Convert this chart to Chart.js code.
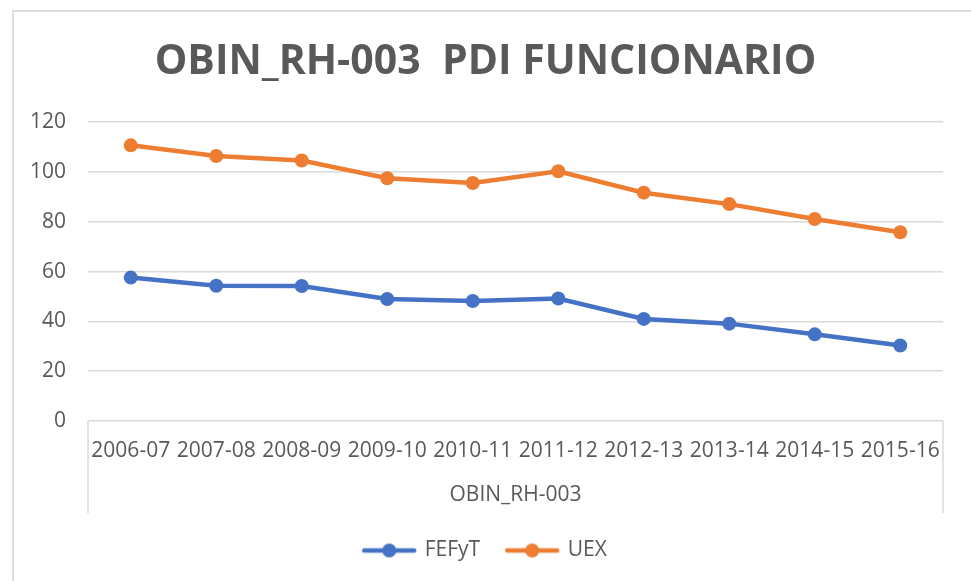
<!DOCTYPE html>
<html>
<head>
<meta charset="utf-8">
<script src="https://cdn.jsdelivr.net/npm/chart.js@4/dist/chart.umd.min.js"></script>
<style>
  html, body { margin: 0; padding: 0; background: #fff; overflow: hidden; }
  #wrap { position: relative; width: 971px; height: 581px; }
  #frame { position: absolute; left: 12px; top: 10px; width: 2000px; height: 2000px;
           border: 2px solid #dedede; pointer-events: none; }
</style>
</head>
<body>
<div id="wrap">
  <canvas id="obinChart" width="971" height="581"></canvas>
  <div id="frame"></div>
</div>
<script>
// datos
const cursos = ['2006-07', '2007-08', '2008-09', '2009-10', '2010-11', '2011-12', '2012-13', '2013-14', '2014-15', '2015-16'];
const fefyt = [57.6, 54.3, 54.2, 49.0, 48.2, 49.2, 41.0, 39.1, 34.8, 30.3];
const uex = [110.7, 106.4, 104.6, 97.5, 95.6, 100.3, 91.7, 87.1, 81.1, 75.8];
const yTicks = [0, 20, 40, 60, 80, 100, 120];
const tituloGrafico = 'OBIN_RH-003  PDI FUNCIONARIO';
const tituloEje = 'OBIN_RH-003';

const azul = '#4472C4';
const naranja = '#ED7D31';
const gris = '#595959';

Chart.defaults.font.family = "'Open Sans', 'Liberation Sans', sans-serif";
Chart.defaults.color = gris;

// icono de leyenda: linea con punto, como en excel
function legendIcon(color){
    const c = document.createElement('canvas');
    c.width = 56; c.height = 16;
    const g = c.getContext('2d');
    g.strokeStyle = color;
    g.lineWidth = 4.5;
    g.lineCap = 'round';
    g.beginPath();
    g.moveTo(3, 8);
    g.lineTo(53, 8);
    g.stroke();
    g.fillStyle = color;
    g.beginPath();
    g.arc(28, 8, 7, 0, Math.PI * 2);
    g.fill();
    return c;
}
const iconos = [legendIcon(azul), legendIcon(naranja)];

// lineas verticales del eje de categorias multinivel
const cajaCategorias = {
    id: 'cajaCategorias',
    afterDraw(chart){
        const x = chart.scales.x;
        const ctx = chart.ctx;
        ctx.save();
        ctx.strokeStyle = '#d9d9d9';
        ctx.lineWidth = 1.5;
        [chart.chartArea.left, chart.chartArea.right].forEach(px => {
            ctx.beginPath();
            ctx.moveTo(px, x.top);
            ctx.lineTo(px, x.bottom);
            ctx.stroke();
        });
        ctx.restore();
    }
};

const ctx = document.getElementById('obinChart').getContext('2d');
window.obinChart = new Chart(ctx, {
    type: 'line',
    data: {
        labels: cursos,
        datasets: [{
            label: 'FEFyT',
            data: fefyt,
            borderColor: azul,
            backgroundColor: azul,
            borderWidth: 4.5,
            pointRadius: 7,
            pointHoverRadius: 7,
            pointBorderWidth: 0,
            tension: 0
        }, {
            label: 'UEX',
            data: uex,
            borderColor: naranja,
            backgroundColor: naranja,
            borderWidth: 4.5,
            pointRadius: 7,
            pointHoverRadius: 7,
            pointBorderWidth: 0,
            tension: 0
        }]
    },
    options: {
        responsive: false,
        animation: false,
        layout: {
            padding: { left: 28, right: 28, top: 0, bottom: 10 }
        },
        scales: {
            x: {
                offset: true,
                grid: { display: false, drawTicks: false },
                border: { display: false },
                ticks: { font: { size: 21 }, padding: 17, maxRotation: 0, autoSkip: false },
                title: { display: true, text: tituloEje, font: { size: 21 }, padding: { top: 0, bottom: 5 } },
                afterFit(scale){ scale.height = 92; }
            },
            y: {
                min: 0,
                max: 120,
                afterBuildTicks(scale){ scale.ticks = yTicks.map(v => ({ value: v })); },
                grid: { color: '#d9d9d9', lineWidth: 1.5, drawTicks: false },
                border: { display: false },
                ticks: { font: { size: 21 }, padding: 22 },
                afterFit(scale){ scale.width = 60; }
            }
        },
        plugins: {
            title: {
                display: true,
                text: tituloGrafico,
                color: gris,
                font: { size: 41, weight: 'bold' },
                padding: { top: 38, bottom: 35 }
            },
            legend: {
                position: 'bottom',
                labels: {
                    usePointStyle: true,
                    pointStyleWidth: 50,
                    boxHeight: 16,
                    padding: 27,
                    font: { size: 21 },
                    color: gris,
                    generateLabels(chart){
                        const items = Chart.defaults.plugins.legend.labels.generateLabels(chart);
                        items.forEach((it, i) => { it.pointStyle = iconos[i]; });
                        return items;
                    }
                }
            },
            tooltip: { enabled: false }
        }
    },
    plugins: [cajaCategorias]
});
</script>
</body>
</html>
